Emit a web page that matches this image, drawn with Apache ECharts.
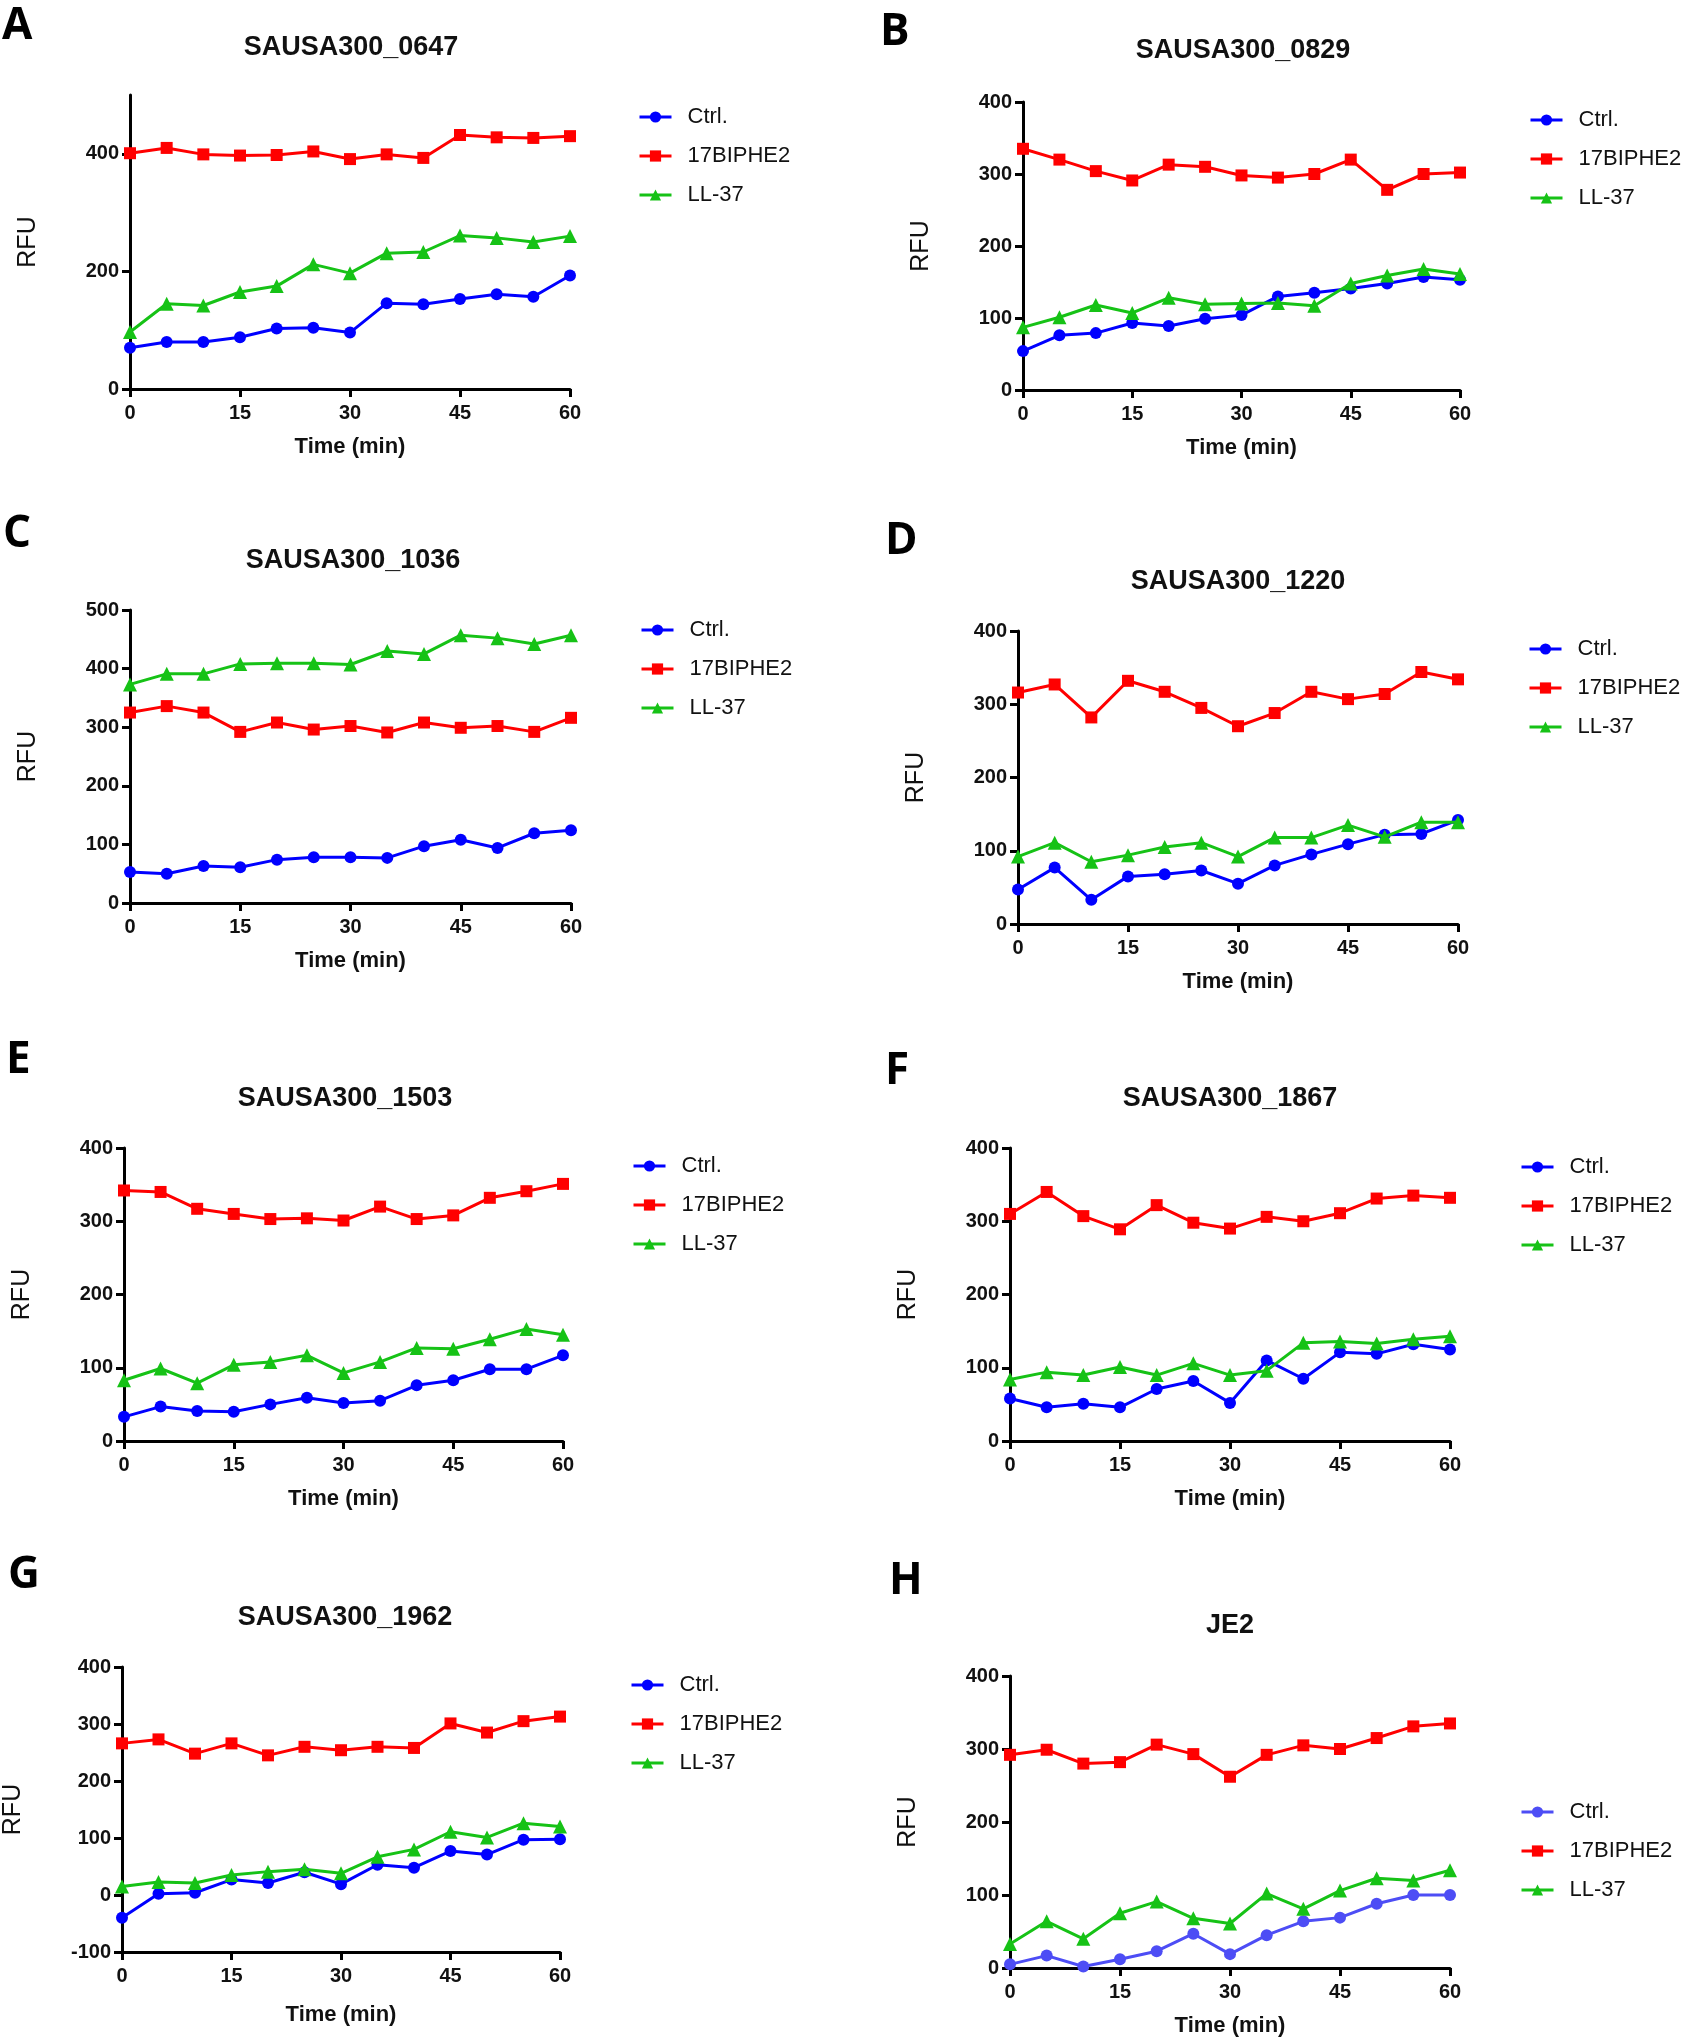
<!DOCTYPE html>
<html>
<head>
<meta charset="utf-8">
<script src="https://cdn.jsdelivr.net/npm/echarts@6/dist/echarts.min.js"></script>
<style>
html,body{margin:0;padding:0;background:#fff;}
#chart{width:1684px;height:2040px;}
</style>
</head>
<body>
<div id="chart"></div>
<script>
// ---------- DATA ----------
var timeMin = [0, 5, 10, 15, 20, 25, 30, 35, 40, 45, 50, 55, 60];
var seriesNames = ['Ctrl.', '17BIPHE2', 'LL-37'];
var xTicks = [0, 15, 30, 45, 60];

var panelLetters = ['A', 'B', 'C', 'D', 'E', 'F', 'G', 'H'];
var panelTitles = ['SAUSA300_0647', 'SAUSA300_0829', 'SAUSA300_1036', 'SAUSA300_1220',
                   'SAUSA300_1503', 'SAUSA300_1867', 'SAUSA300_1962', 'JE2'];

// y axis ranges and tick labels per panel
var yMin = [0, 0, 0, 0, 0, 0, -100, 0];
var yMax = [500, 400, 500, 400, 400, 400, 400, 400];
var yTicksA = [0, 200, 400];

// A: SAUSA300_0647
var ctrlA = [70, 80, 80, 88, 103, 104, 96, 146, 144, 153, 161, 157, 193];
var biphA = [401, 410, 399, 397, 398, 404, 391, 399, 393, 432, 428, 427, 430];
var llA   = [97, 145, 142, 165, 175, 212, 197, 231, 233, 261, 257, 250, 260];
// B: SAUSA300_0829
var ctrlB = [54, 76, 79, 93, 89, 99, 104, 130, 135, 141, 148, 157, 153];
var biphB = [335, 320, 304, 291, 313, 310, 298, 295, 300, 320, 278, 300, 302];
var llB   = [87, 101, 118, 107, 128, 119, 120, 121, 117, 148, 159, 168, 161];
// C: SAUSA300_1036
var ctrlC = [53, 50, 63, 61, 74, 78, 78, 77, 97, 108, 94, 119, 124];
var biphC = [325, 336, 325, 292, 308, 296, 302, 291, 308, 299, 302, 292, 316];
var llC   = [373, 391, 391, 408, 409, 409, 407, 430, 425, 457, 452, 442, 457];
// D: SAUSA300_1220
var ctrlD = [47, 77, 33, 65, 68, 73, 55, 80, 95, 109, 122, 123, 142];
var biphD = [316, 327, 282, 332, 317, 295, 270, 288, 317, 307, 314, 344, 334];
var llD   = [92, 111, 85, 94, 105, 111, 92, 118, 118, 135, 119, 139, 139];
// E: SAUSA300_1503
var ctrlE = [33, 47, 41, 40, 50, 59, 52, 55, 76, 83, 98, 98, 117];
var biphE = [342, 340, 317, 310, 303, 304, 301, 320, 303, 308, 332, 341, 351];
var llE   = [83, 99, 79, 104, 108, 117, 93, 108, 127, 126, 139, 153, 145];
// F: SAUSA300_1867
var ctrlF = [58, 46, 51, 46, 71, 82, 52, 110, 85, 121, 119, 132, 125];
var biphF = [310, 340, 307, 289, 322, 298, 290, 306, 300, 311, 331, 335, 332];
var llF   = [84, 94, 90, 101, 90, 106, 90, 96, 134, 136, 133, 139, 143];
// G: SAUSA300_1962
var ctrlG = [-40, 2, 4, 27, 21, 40, 19, 53, 48, 77, 71, 97, 98];
var biphG = [266, 273, 248, 266, 245, 260, 254, 260, 258, 301, 285, 305, 313];
var llG   = [15, 23, 21, 35, 41, 45, 38, 67, 80, 111, 101, 126, 120];
// H: JE2
var ctrlH = [5, 17, 2, 12, 23, 47, 19, 45, 64, 69, 88, 100, 100];
var biphH = [292, 299, 280, 282, 306, 293, 262, 292, 305, 300, 315, 331, 335];
var llH   = [33, 64, 40, 75, 91, 68, 61, 102, 81, 106, 123, 120, 134];

var panelData = [
  [ctrlA, biphA, llA], [ctrlB, biphB, llB], [ctrlC, biphC, llC], [ctrlD, biphD, llD],
  [ctrlE, biphE, llE], [ctrlF, biphF, llF], [ctrlG, biphG, llG], [ctrlH, biphH, llH]
];

// ---------- LAYOUT / STYLE ----------
var grids = [
  {left: 130, top: 95, width: 440, height: 294},
  {left: 1023, top: 102, width: 437, height: 288},
  {left: 130, top: 610, width: 441, height: 293},
  {left: 1018, top: 631, width: 440, height: 293},
  {left: 124, top: 1148, width: 439, height: 293},
  {left: 1010, top: 1148, width: 440, height: 293},
  {left: 120, top: 1667, width: 440, height: 285},
  {left: 1010, top: 1676, width: 440, height: 292}
];
var letterPos = [[2, 4], [880, 10], [3, 512], [885, 519], [6, 1038], [885, 1049], [8, 1553], [889, 1559]];
var titleCenter = [[351, 49], [1243, 52], [353, 562], [1238, 583], [345, 1100], [1230, 1100], [345, 1619], [1230, 1627]];
var legendPos = [[638, 117], [1529, 120], [640, 630], [1528, 649], [632, 1166], [1520, 1167], [630, 1685], [1520, 1812]];

var colors = ['#0000ff', '#ff0000', '#16c216'];
var colorsH = ['#4d4df5', '#ff0000', '#16c216'];
var symbols = ['circle', 'rect', 'triangle'];
var FONT = '"Liberation Sans", Arial, sans-serif';

var option = {
  animation: false,
  backgroundColor: '#ffffff',
  title: [], grid: [], xAxis: [], yAxis: [], series: [], legend: []
};

for (var p = 0; p < 8; p++) {
  option.title.push({
    text: panelLetters[p], left: letterPos[p][0], top: letterPos[p][1], padding: 0,
    textStyle: {fontFamily: '"Open Sans", sans-serif', fontWeight: 700, fontSize: 44, color: '#000'}
  });
  option.title.push({
    text: panelTitles[p], left: titleCenter[p][0], top: titleCenter[p][1] - 15, textAlign: 'center', padding: 0,
    textStyle: {fontFamily: FONT, fontWeight: 'bold', fontSize: 27, color: '#111'}
  });
  option.grid.push(Object.assign({containLabel: false}, grids[p]));
  option.xAxis.push({
    type: 'value', gridIndex: p, min: 0, max: 60, interval: 15,
    name: 'Time (min)', nameLocation: 'middle', nameGap: p === 6 ? 52 : 47,
    nameTextStyle: {fontFamily: FONT, fontWeight: 'bold', fontSize: 22, color: '#111'},
    axisLine: {onZero: false, lineStyle: {color: '#000', width: 3}},
    axisTick: {show: true, inside: false, length: 8, lineStyle: {color: '#000', width: 3}},
    axisLabel: {fontFamily: FONT, fontWeight: 'bold', fontSize: 20, color: '#111', margin: 14},
    splitLine: {show: false}
  });
  var ya = {
    type: 'value', gridIndex: p, min: yMin[p], max: yMax[p], interval: 100,
    name: 'RFU', nameLocation: 'middle', nameGap: p === 6 ? 96 : 89,
    nameTextStyle: {fontFamily: FONT, fontWeight: 'normal', fontSize: 25, color: '#111'},
    axisLine: {onZero: false, lineStyle: {color: '#000', width: 3}},
    axisTick: {show: true, inside: false, length: 8, lineStyle: {color: '#000', width: 3}},
    axisLabel: {fontFamily: FONT, fontWeight: 'bold', fontSize: 20, color: '#111', margin: 11},
    splitLine: {show: false}
  };
  if (p === 0) {
    ya.interval = 200;
    ya.axisTick.customValues = yTicksA;
    ya.axisLabel.customValues = yTicksA;
  }
  option.yAxis.push(ya);

  var cols = (p === 7) ? colorsH : colors;
  for (var s = 0; s < 3; s++) {
    var vals = panelData[p][s];
    var pts = [];
    for (var i = 0; i < timeMin.length; i++) pts.push([timeMin[i], vals[i]]);
    option.series.push({
      type: 'line', name: seriesNames[s], xAxisIndex: p, yAxisIndex: p,
      data: pts, symbol: symbols[s], symbolSize: s === 2 ? 14 : 12, clip: false,
      lineStyle: {color: cols[s], width: 3},
      itemStyle: {color: cols[s]},
      z: 2 + s
    });
  }
  var legData = [];
  for (var s2 = 0; s2 < 3; s2++) {
    legData.push({name: seriesNames[s2], itemStyle: {color: cols[s2]}, lineStyle: {color: cols[s2], width: 3}});
  }
  option.legend.push({
    orient: 'vertical', left: legendPos[p][0], top: legendPos[p][1] - 12,
    itemWidth: 32, itemHeight: 14, itemGap: 15, padding: 0,
    selectedMode: false,
    data: legData,
    textStyle: {fontFamily: FONT, fontSize: 22, color: '#111', lineHeight: 24, padding: [0, 0, 0, 11]}
  });
}

var chart = echarts.init(document.getElementById('chart'), null, {renderer: 'canvas'});
chart.setOption(option);
</script>
</body>
</html>
